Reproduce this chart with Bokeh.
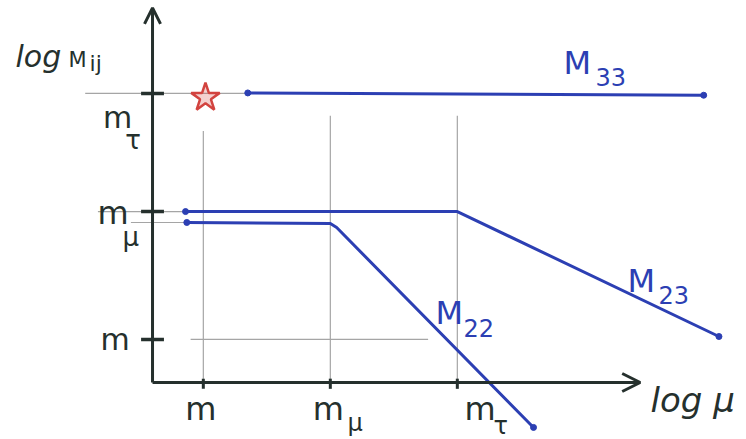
from bokeh.plotting import figure
from bokeh.models import Range1d, Arrow, OpenHead, Label
from bokeh.embed import file_html
from bokeh.resources import INLINE

# ---- data (log units; origin of the sketch at (0, 0)) ----
x_ticks = [0.40, 1.40, 2.40]          # m, m_mu, m_tau on the log(mu) axis
x_tick_sub = ["", "μ", "τ"]
y_ticks = [2.276, 1.346, 0.339]       # m_tau, m_mu, m on the log(M) axis
y_tick_sub = ["τ", "μ", ""]

m33_x = [0.75, 4.34]
m33_y = [2.28, 2.262]
m23_x = [0.26, 2.40, 4.46]
m23_y = [1.346, 1.346, 0.362]
m22_x = [0.27, 1.40, 1.45, 3.00]
m22_y = [1.26, 1.252, 1.22, -0.354]
m22_level = 1.26

star_x = [0.417]
star_y = [2.244]

x_axis_end = 3.84
y_axis_end = 2.95

BLUE = "#2c3fb3"
DARK = "#25302d"
GREY = "#a5a5a5"
RED = "#d2433f"
FONT = "DejaVu Sans"

p = figure(width=746, height=439, output_backend="svg", toolbar_location=None,
           x_axis_type=None, y_axis_type=None,
           x_range=Range1d(-1.197, 4.677), y_range=Range1d(-0.449, 3.008),
           min_border=0, min_border_left=0, min_border_right=0,
           min_border_top=0, min_border_bottom=0)
p.grid.visible = False
p.outline_line_color = None
p.background_fill_color = "white"

# ---- grey guide lines ----
p.segment(x0=[x_ticks[0]], y0=[1.98], x1=[x_ticks[0]], y1=[0], line_color=GREY, line_width=1.2)
p.segment(x0=x_ticks[1:], y0=[2.10, 2.10], x1=x_ticks[1:], y1=[0, 0], line_color=GREY, line_width=1.2)
p.segment(x0=[-0.53], y0=[y_ticks[0]], x1=[m33_x[0]], y1=[y_ticks[0]], line_color=GREY, line_width=1.2)
p.segment(x0=[-0.43], y0=[y_ticks[1]], x1=[m23_x[0]], y1=[y_ticks[1]], line_color=GREY, line_width=1.2)
p.segment(x0=[-0.17], y0=[m22_level], x1=[m22_x[0]], y1=[m22_level], line_color=GREY, line_width=1.2)
p.segment(x0=[0.30], y0=[y_ticks[2]], x1=[2.17], y1=[y_ticks[2]], line_color=GREY, line_width=1.2)

# ---- axes with arrows ----
p.add_layout(Arrow(end=OpenHead(size=16, line_color=DARK, line_width=3),
                   x_start=0, y_start=0, x_end=0, y_end=y_axis_end,
                   line_color=DARK, line_width=3))
p.add_layout(Arrow(end=OpenHead(size=18, line_color=DARK, line_width=3),
                   x_start=0, y_start=0, x_end=x_axis_end, y_end=0,
                   line_color=DARK, line_width=3))

# tick marks
p.segment(x0=[-0.09] * 3, y0=y_ticks, x1=[0.09] * 3, y1=y_ticks, line_color=DARK, line_width=3.5)
p.segment(x0=x_ticks, y0=[-0.05] * 3, x1=x_ticks, y1=[0.03] * 3, line_color=DARK, line_width=3)

# ---- curves ----
for xs, ys in [(m33_x, m33_y), (m23_x, m23_y), (m22_x, m22_y)]:
    p.line(xs, ys, line_color=BLUE, line_width=3, line_cap="round", line_join="round")
    p.scatter([xs[0], xs[-1]], [ys[0], ys[-1]], size=6, color=BLUE)

p.scatter(star_x, star_y, marker="star", size=30, line_color=RED, line_width=2.5,
          fill_color=RED, fill_alpha=0.25)

# ---- texts ----
def txt(x, y, s, size, color=DARK, align="left", style="normal"):
    p.add_layout(Label(x=x, y=y, text=s, text_font=FONT, text_font_size=f"{size}px",
                       text_color=color, text_align=align, text_baseline="alphabetic",
                       text_font_style=style, y_offset=round(0.3 * size)))

txt(-1.079, 2.496, "log", 30, style="italic")
txt(-0.661, 2.496, "M", 21)
txt(-0.496, 2.457, "ij", 22)

# y-axis labels
txt(-0.39, y_ticks[0] - 0.26, "m", 30)
txt(-0.215, y_ticks[0] - 0.43, y_tick_sub[0], 26)
txt(-0.433, y_ticks[1] - 0.094, "m", 32)
txt(-0.236, y_ticks[1] - 0.267, y_tick_sub[1], 26)
txt(-0.409, y_ticks[2] - 0.071, "m", 30)

# x-axis labels
x_label_dx = [-0.02, -0.016, 0.18]
x_sub_dx = [0.0, 0.135, 0.285]
x_sub_y = [0.0, -0.378, -0.395]
for xt, sub, dx, sdx, sy in zip(x_ticks, x_tick_sub, x_label_dx, x_sub_dx, x_sub_y):
    txt(xt + dx, -0.29, "m", 32, align="center")
    if sub:
        txt(xt + sdx, sy, sub, 24)

txt(3.921, -0.22, "log μ", 34, style="italic")

# curve labels
txt(3.236, 2.441, "M", 32, color=BLUE)
txt(3.488, 2.354, "33", 24, color=BLUE)
txt(2.228, 0.472, "M", 32, color=BLUE)
txt(2.449, 0.370, "22", 24, color=BLUE)
txt(3.74, 0.724, "M", 32, color=BLUE)
txt(3.984, 0.63, "23", 24, color=BLUE)

open("out.html", "w").write(file_html(p, INLINE))
